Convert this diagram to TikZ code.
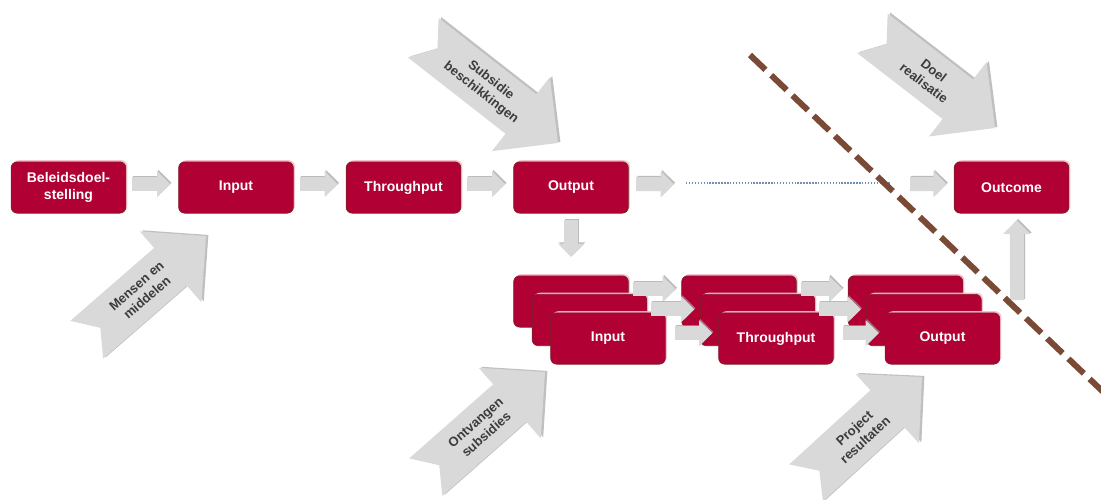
\documentclass[tikz,border=0pt]{standalone}
\usepackage{fontspec}
\setmainfont{Liberation Sans}
\usetikzlibrary{arrows.meta,shadows,calc}
\pgfdeclarelayer{bg}
\pgfdeclarelayer{fg}
\pgfsetlayers{bg,main,fg}
\definecolor{boxred}{HTML}{B00034}
\definecolor{boxedge}{HTML}{7F1F2A}
\definecolor{glow}{HTML}{F4BCC8}
\definecolor{arrgray}{HTML}{D9D9D9}
\definecolor{arrshadow}{HTML}{9E9E9E}
\definecolor{txtgray}{HTML}{3C3C3C}
\definecolor{dashbrown}{HTML}{7B4A36}
\definecolor{dotblue}{HTML}{6F8FB5}
\tikzset{
  box/.style={rounded corners=4.5pt, fill=boxred, draw=boxedge, line width=0.5pt,
    minimum width=86pt, minimum height=38.5pt, inner sep=1pt, text=white, align=center,
    font=\bfseries\fontsize{10.5}{12.5}\selectfont,
    drop shadow={shadow xshift=1.2pt, shadow yshift=1.2pt, fill=glow, opacity=0.9}},
  sarrow/.style={draw=arrgray, line width=10.5pt, -{Triangle[length=10pt,width=19pt]}},
  sarrowshadow/.style={draw=arrshadow, opacity=0.7, transform canvas={xshift=0.9pt,yshift=0.9pt}},
  chevfill/.style={fill=arrgray},
  chevshadow/.style={fill=black!45, opacity=0.55},
  chevtext/.style={text=txtgray, align=center, inner sep=0pt,
    font=\bfseries\fontsize{9.8}{12}\selectfont},
  dotline/.style={draw=dotblue, line width=1.1pt, dash pattern=on 1.1pt off 1.1pt},
  dashline/.style={draw=dashbrown, line width=4.5pt, dash pattern=on 16pt off 6pt}
}
\newcommand\gconn[3][]{%
  \draw[sarrow,#1,sarrowshadow] #2 -- #3;
  \draw[sarrow,#1] #2 -- #3;}
\newcommand\chevron[5]{%
  \begin{scope}[shift={#2}, xshift=1.8pt, yshift=0.8pt, rotate=#3]
    \fill[chevshadow] (0,0) -- (-47,-47) -- (-47,-25) -- (-#4,-25) -- ({-#4+18},0)
      -- (-#4,25) -- (-47,25) -- (-47,47) -- cycle;
  \end{scope}
  \begin{scope}[shift={#2}, rotate=#3]
    \fill[chevfill] (0,0) -- (-47,-47) -- (-47,-25) -- (-#4,-25) -- ({-#4+18},0)
      -- (-#4,25) -- (-47,25) -- (-47,47) -- cycle;
    \node[chevtext, rotate=#3] (#1) at ({-#4/2-6},0) {#5};
  \end{scope}}
\begin{document}
\begin{tikzpicture}[x=0.75pt,y=-0.75pt]
\useasboundingbox (0,0) rectangle (1101,500);

% big chevron arrows
\chevron{mens}{(206,236)}{41}{158}{Mensen en\\middelen}
\chevron{subs}{(558,143)}{-38}{171}{Subsidie\\beschikkingen}
\chevron{doel}{(995,128)}{-37.7}{155}{Doel\\realisatie}
\chevron{ontv}{(545,372)}{41.4}{159}{Ontvangen\\subsidies}
\chevron{proj}{(922,377)}{42.4}{157}{Project\\resultaten}

% main row
\node[box] (bel) at (68.5,187.5) {Beleidsdoel-\\stelling};
\node[box] (in) at (236,187.5) {Input};
\node[box] (thr) at (403.5,187.5) {Throughput};
\node[box] (out) at (571,187.5) {Output};
\node[box] (outc) at (1011.5,187.5) {Outcome};

% stacks
\node[box] (ib) at (571,301.5) {};
\node[box] (im) at (589.5,320) {};
\node[box] (if) at (608,338.5) {Input};
\node[box] (tb) at (739,301.5) {};
\node[box] (tm) at (757.5,320) {};
\node[box] (tf) at (776,338.5) {Throughput};
\node[box] (ob) at (905.5,301.5) {};
\node[box] (om) at (924,320) {};
\node[box] (of) at (942.5,338.5) {Output};

\coordinate (dA) at (674,184);
\coordinate (dB) at (686,183);
\coordinate (dC) at (890,183);
\coordinate (dD) at (910,184);
\coordinate (upA) at (1017,300);

\begin{pgfonlayer}{bg}
\gconn[shorten <=4.5pt, shorten >=6pt]{([yshift=2.6pt]bel.east)}{([yshift=2.6pt]in.west)}
\gconn[shorten <=4.5pt, shorten >=6pt]{([yshift=2.6pt]in.east)}{([yshift=2.6pt]thr.west)}
\gconn[shorten <=4.5pt, shorten >=6pt]{([yshift=2.6pt]thr.east)}{([yshift=2.6pt]out.west)}
\gconn[shorten <=5.6pt]{([yshift=2.6pt]out.east)}{(dA)}
\draw[dotline] (dB) -- (dC);
\gconn[shorten >=5.3pt]{(dD)}{([yshift=2.6pt]outc.west)}
\gconn[shorten <=4.9pt, shorten >=13.9pt]{(out.south)}{(ib.north)}
\gconn[-{Triangle[length=10.5pt,width=20pt]}, shorten >=5pt]{(upA)}{([xshift=4.1pt]outc.south)}
\end{pgfonlayer}

% stack rows (drawn over the back boxes)
\begin{pgfonlayer}{fg}
\gconn[shorten <=3pt, shorten >=4.1pt]{([yshift=9.4pt]ib.east)}{([yshift=9.4pt]tb.west)}
\gconn[shorten <=3pt, shorten >=4.1pt]{([yshift=8pt]im.east)}{([yshift=8pt]tm.west)}
\gconn[shorten <=7pt, shorten >=4.5pt]{([yshift=4pt]if.east)}{([yshift=4pt]tf.west)}
\gconn[shorten <=3pt, shorten >=4.1pt]{([yshift=9.4pt]tb.east)}{([yshift=9.4pt]ob.west)}
\gconn[shorten <=3pt, shorten >=4.1pt]{([yshift=8pt]tm.east)}{([yshift=8pt]om.west)}
\gconn[shorten <=7pt, shorten >=4.5pt]{([yshift=4pt]tf.east)}{([yshift=4pt]of.west)}
% dividing dashed line
\draw[dashline] (750,55) -- (1106,394.6);
\end{pgfonlayer}
\end{tikzpicture}
\end{document}
